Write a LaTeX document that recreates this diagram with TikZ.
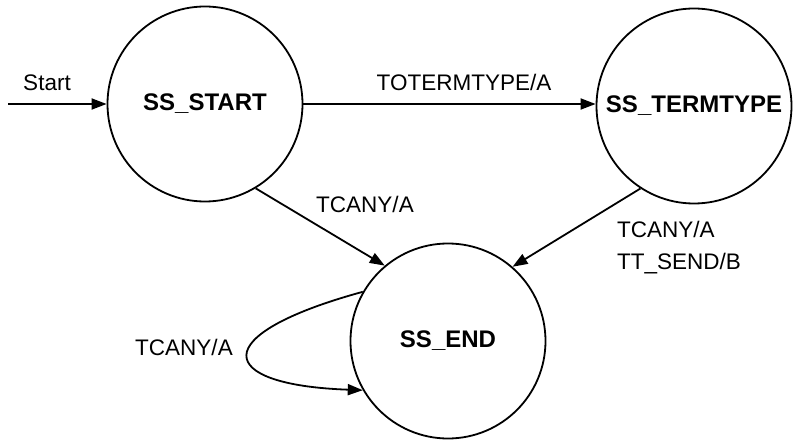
\documentclass[tikz,border=0pt]{standalone}
\usepackage{fontspec}
\setmainfont{Liberation Sans}
\usetikzlibrary{arrows.meta}
\begin{document}
\begin{tikzpicture}[x=1pt,y=-1pt,
  state/.style={draw,circle,line width=1.8pt,minimum size=195pt,inner sep=0pt,
    font=\fontsize{24}{27}\selectfont\bfseries},
  lbl/.style={font=\fontsize{22.5}{25}\selectfont,inner sep=0pt},
  trans/.style={line width=1.8pt,-{Triangle[length=15pt,width=11pt]}}]
  \useasboundingbox (0,0) rectangle (793,441);

  % states
  \node[state] (s) at (205,104) {SS\_START};
  \node[state] (t) at (694,106) {SS\_TERMTYPE};
  \node[state] (e) at (448,341) {SS\_END};

  % entry arrow
  \coordinate (in) at (8,104);
  \draw[trans] (in) -- (s);
  \node[lbl] (lstart) at (47,83) {Start};

  % transitions
  \draw[trans] (s.east) -- (s.east -| t.west);
  \node[lbl] (l1) at (464,82) {TOTERMTYPE/A};

  \draw[trans] (s.301) -- (e.130);
  \node[lbl] (l2) at (365,204) {TCANY/A};

  \draw[trans] (t.237) -- (e.49);
  \node[lbl,anchor=west] (l3) at (617,229) {TCANY/A};
  \node[lbl,anchor=west] (l4) at (617,264) {TT\_SEND/B};

  % self loop
  \draw[trans] (e.150) .. controls (205,335) and (215,385) .. (e.210);
  \node[lbl] (l5) at (184,347) {TCANY/A};
\end{tikzpicture}
\end{document}
